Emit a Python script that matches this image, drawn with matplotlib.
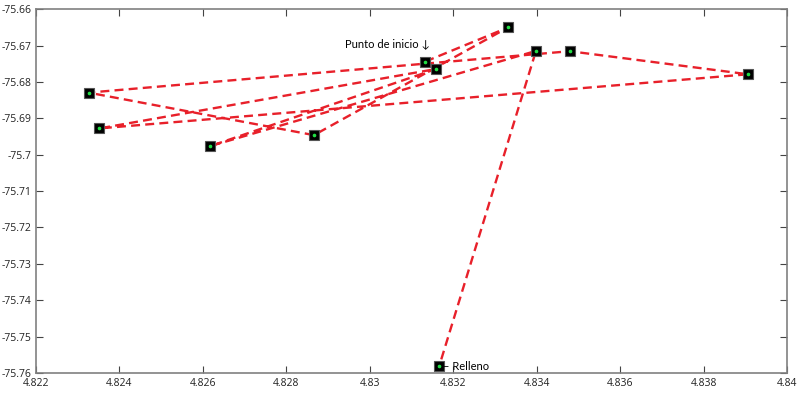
import matplotlib
matplotlib.use('Agg')
import matplotlib.pyplot as plt

# route in visiting order (start -> landfill)
lon = [4.83133, 4.83331, 4.82866, 4.82326, 4.83479, 4.83906,
       4.82352, 4.83159, 4.82617, 4.83398, 4.83166]
lat = [-75.67441, -75.66505, -75.69463, -75.68295, -75.67157, -75.67791,
       -75.69278, -75.67645, -75.69766, -75.67149, -75.75815]

x_ticks = [4.822, 4.824, 4.826, 4.828, 4.83, 4.832, 4.834, 4.836, 4.838, 4.84]
x_labels = ['4.822', '4.824', '4.826', '4.828', '4.83', '4.832', '4.834', '4.836', '4.838', '4.84']
y_ticks = [-75.66, -75.67, -75.68, -75.69, -75.7, -75.71, -75.72, -75.73, -75.74, -75.75, -75.76]
y_labels = ['-75.66', '-75.67', '-75.68', '-75.69', '-75.7', '-75.71', '-75.72', '-75.73',
            '-75.74', '-75.75', '-75.76']

plt.rcParams['font.family'] = ['Open Sans', 'DejaVu Sans']

fig = plt.figure(figsize=(8, 3.96), dpi=100)
ax = fig.add_axes([0.045, 0.058, 0.939, 0.919])

ax.plot(lon, lat, color='#e8202a', linewidth=1.7, dashes=(3.8, 2.2), zorder=2)
ax.plot(lon, lat, linestyle='none', marker='s', markersize=6.5,
        markerfacecolor='black', markeredgecolor='#555555', markeredgewidth=0.8, zorder=3)
ax.plot(lon, lat, linestyle='none', marker='o', markersize=1.6,
        color='#22dd44', zorder=4)

ax.annotate('Punto de inicio \u2193', xy=(lon[0], lat[0]), xytext=(5, 18),
            textcoords='offset pixels', ha='right', va='center', fontsize=8,
            family=['Lato', 'DejaVu Sans'])
ax.annotate('\u2013 Relleno', xy=(lon[-1], lat[-1]), xytext=(4, 0),
            textcoords='offset pixels', ha='left', va='center', fontsize=8,
            family=['Lato', 'DejaVu Sans'])

ax.set_xlim(4.822, 4.84)
ax.set_ylim(-75.76, -75.66)
ax.set_xticks(x_ticks)
ax.set_xticklabels(x_labels)
ax.set_yticks(y_ticks)
ax.set_yticklabels(y_labels)
ax.tick_params(direction='in', top=True, right=True, labelsize=7.5,
               length=5, width=0.8, colors='#444444', labelcolor='#222222')
for s in ax.spines.values():
    s.set_color('#808080')
    s.set_linewidth(1.2)

fig.savefig('out.png', dpi=100)
